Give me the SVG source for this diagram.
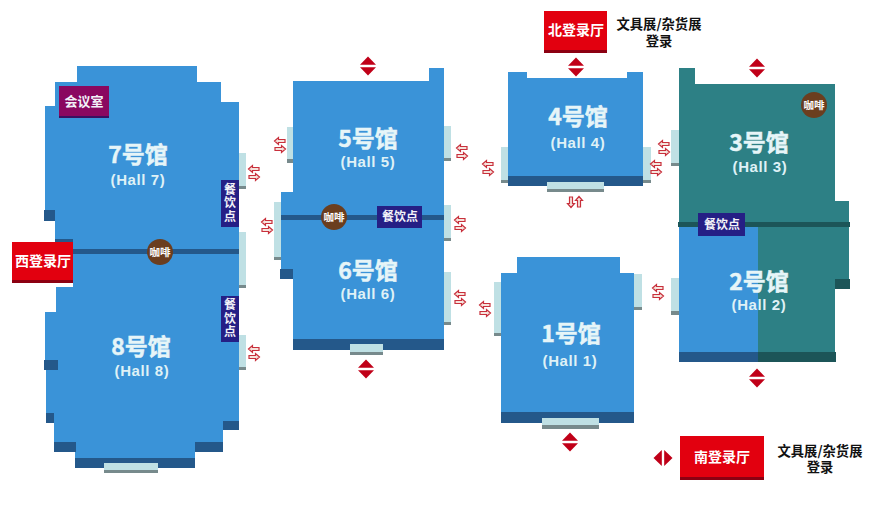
<svg xmlns="http://www.w3.org/2000/svg" width="880" height="505" viewBox="0 0 880 505">
<style>
.blue{fill:#3a93d8}.teal{fill:#2d8085}.dk{fill:#24588a}.dt{fill:#1c5558}.st{fill:#bfe0e4}.gr{fill:#778a8c}
.red{fill:#e2000f}.dr{fill:#8c0012}.food{fill:#251f85}.cof{fill:#6b3e1f}
text{font-family:"Noto Sans CJK SC","Noto Sans",sans-serif;font-weight:700;text-anchor:middle}
.t{font-size:23px;fill:#e6f5f8;stroke:#e6f5f8;stroke-width:.5px}
.h{font-family:"Liberation Sans",Arial,sans-serif;font-size:15px;fill:#dff1f6;letter-spacing:.6px}
.s{font-size:12px;fill:#f2f2f8}
.v{font-size:12px;fill:#f2f2f8;writing-mode:vertical-rl;letter-spacing:1.5px}
.l{font-size:14px;fill:#fff}
.k{font-size:13.300px;fill:#111}
.c{font-size:10.500px;fill:#fff}
.ar{fill:#f6e3dc;stroke:#c8303c;stroke-width:1.200}
.dm{fill:#c00018}
</style>
<defs>
<g id="lr"><path class="ar" d="M-5.500-4-1.500-7.500V-5.500H5V-2.500H-1.500V-.5Z"/><path class="ar" d="M5.500 4 1.500 .5V2.500H-5V5.500H1.500V7.500Z"/></g>
<g id="ud"><path class="ar" d="M-4 5.500-7.500 1.500H-5.500V-5H-2.500V1.500H-.5Z"/><path class="ar" d="M4-5.500 7.500-1.500H5.500V5H2.500V-1.500H.5Z"/></g>
<g id="dmv"><path class="dm" d="M-8-1.200 0-9.500 8-1.200Z"/><path class="dm" d="M-8 1.200 0 9.500 8 1.200Z"/></g>
<g id="dmh"><path class="dm" d="M-1.200-8-9.500 0-1.200 8Z"/><path class="dm" d="M1.200-8 9.500 0 1.200 8Z"/></g>
</defs>

<g id="hall-7-8">
<rect class="st" x="239" y="153" width="7" height="33"/><rect class="gr" x="239" y="186" width="7" height="3"/>
<rect class="st" x="239" y="232" width="7" height="53"/><rect class="gr" x="239" y="285" width="7" height="3"/>
<rect class="st" x="239" y="335" width="7" height="32"/><rect class="gr" x="239" y="367" width="7" height="3"/>
<path class="blue" d="M77 66H197V82H221V102H239V430H223V452H195V458H75V452H54V423H46V370H45V312H56V287H73V240H55V221H45V106H55V82H77Z"/>
<rect class="dk" x="44" y="210" width="11" height="11"/>
<rect class="dk" x="44" y="360" width="14" height="10"/>
<rect class="dk" x="46" y="413" width="8" height="10"/>
<rect class="dk" x="54" y="442" width="22" height="10"/>
<rect class="dk" x="195" y="442" width="28" height="10"/>
<rect class="dk" x="223" y="421" width="16" height="9"/>
<rect class="dk" x="75" y="458" width="120" height="10"/>
<rect class="st" x="104" y="463" width="54" height="7"/><rect class="gr" x="104" y="470" width="54" height="3"/>
<rect class="dk" x="55" y="239" width="18" height="5"/>
<rect class="dk" x="55" y="249" width="184" height="5"/>
<text class="t" x="138" y="163">7号馆</text>
<text class="h" x="138" y="185">(Hall 7)</text>
<text class="t" x="141" y="355">8号馆</text>
<text class="h" x="142" y="376">(Hall 8)</text>
</g>
<g id="meeting-room"><rect fill="#8a0860" x="59" y="86" width="50" height="30"/><rect fill="#3a1060" x="59" y="116" width="50" height="2"/><text class="s" x="84" y="106" style="font-size:13px">会议室</text></g>
<g id="food-7"><rect class="food" x="221" y="180" width="18" height="47"/><text class="v" x="230" y="203.500">餐饮点</text></g>
<g id="food-8"><rect class="food" x="221" y="296" width="18" height="46"/><text class="v" x="230" y="319">餐饮点</text></g>
<g id="coffee-7"><circle class="cof" cx="160" cy="252" r="13"/><text class="c" x="160" y="256">咖啡</text></g>
<g id="lobby-west"><rect class="red" x="12" y="242" width="61" height="38"/><rect class="dr" x="12" y="280" width="61" height="3"/><text class="l" x="43" y="266">西登录厅</text></g>

<g id="hall-5-6">
<rect class="st" x="287" y="127" width="6" height="32"/><rect class="gr" x="287" y="159" width="6" height="4"/>
<rect class="st" x="274" y="202" width="7" height="55"/><rect class="gr" x="274" y="257" width="7" height="3"/>
<rect class="st" x="444" y="126" width="7" height="32"/><rect class="gr" x="444" y="158" width="7" height="3"/>
<rect class="st" x="444" y="205" width="7" height="33"/><rect class="gr" x="444" y="238" width="7" height="3"/>
<rect class="st" x="444" y="272" width="7" height="50"/><rect class="gr" x="444" y="322" width="7" height="3"/>
<path class="blue" d="M293 81H429V68H444V339H293V279H281V192H293Z"/>
<rect class="dk" x="280" y="269" width="13" height="10"/>
<rect class="dk" x="293" y="339" width="151" height="11"/>
<rect class="st" x="350" y="344" width="33" height="8"/><rect class="gr" x="350" y="352" width="33" height="3"/>
<rect class="dk" x="281" y="215" width="163" height="5"/>
<text class="t" x="368" y="147">5号馆</text>
<text class="h" x="368" y="167">(Hall 5)</text>
<text class="t" x="368" y="279">6号馆</text>
<text class="h" x="368" y="299">(Hall 6)</text>
</g>
<g id="coffee-5"><circle class="cof" cx="334" cy="217" r="13"/><text class="c" x="334" y="221">咖啡</text></g>
<g id="food-5"><rect class="food" x="377" y="206" width="45" height="22"/><text class="s" x="400" y="221">餐饮点</text></g>

<g id="hall-4">
<rect class="st" x="501" y="147" width="7" height="33"/><rect class="gr" x="501" y="180" width="7" height="3"/>
<rect class="st" x="643" y="147" width="8" height="33"/><rect class="gr" x="643" y="180" width="8" height="3"/>
<path class="blue" d="M508 72H527V78H627V72H643V176H508Z"/>
<rect class="dk" x="508" y="176" width="135" height="10"/>
<rect class="st" x="547" y="182" width="57" height="7"/><rect class="gr" x="547" y="189" width="57" height="3"/>
<text class="t" x="578" y="125">4号馆</text>
<text class="h" x="578" y="148">(Hall 4)</text>
</g>
<g id="lobby-north"><rect class="red" x="544" y="11" width="63" height="39"/><rect class="dr" x="544" y="50" width="63" height="3"/><text class="l" x="576" y="35">北登录厅</text></g>
<g id="note-north"><text class="k" x="659" y="29">文具展/杂货展<tspan x="659" dy="17">登录</tspan></text></g>

<g id="hall-1">
<rect class="st" x="494" y="282" width="7" height="51"/><rect class="gr" x="494" y="333" width="7" height="3"/>
<rect class="st" x="634" y="274" width="8" height="33"/><rect class="gr" x="634" y="307" width="8" height="3"/>
<path class="blue" d="M517 257H620V273H634V412H501V273H517Z"/>
<rect class="dk" x="501" y="412" width="133" height="11"/>
<rect class="st" x="542" y="418" width="57" height="7"/><rect class="gr" x="542" y="425" width="57" height="4"/>
<text class="t" x="571" y="342">1号馆</text>
<text class="h" x="570" y="366">(Hall 1)</text>
</g>

<g id="hall-3-2">
<rect class="st" x="671" y="130" width="8" height="33"/><rect class="gr" x="671" y="163" width="8" height="3"/>
<rect class="st" x="671" y="278" width="8" height="33"/><rect class="gr" x="671" y="311" width="8" height="4"/>
<path class="teal" d="M679 68H695V84H835V201H849V279H835V352H679Z"/>
<rect class="blue" x="679" y="227" width="79" height="125"/>
<rect class="dt" x="835" y="279" width="15" height="10"/>
<rect class="dk" x="679" y="352" width="79" height="10"/>
<rect class="dt" x="758" y="352" width="78" height="10"/>
<rect class="dt" x="678" y="222" width="172" height="5"/>
<text class="t" x="759" y="151">3号馆</text>
<text class="h" x="760" y="172">(Hall 3)</text>
<text class="t" x="759" y="290">2号馆</text>
<text class="h" x="759" y="310">(Hall 2)</text>
</g>
<g id="coffee-3"><circle class="cof" cx="814" cy="105" r="13"/><text class="c" x="814" y="109">咖啡</text></g>
<g id="food-3"><rect class="food" x="698" y="213" width="47" height="23"/><text class="s" x="722" y="229">餐饮点</text></g>
<g id="lobby-south"><rect class="red" x="680" y="436" width="84" height="41"/><rect class="dr" x="680" y="477" width="84" height="3"/><text class="l" x="722" y="462">南登录厅</text></g>
<g id="note-south"><text class="k" x="820" y="456">文具展/杂货展<tspan x="820" dy="16">登录</tspan></text></g>

<g id="connectors">
<use href="#lr" x="254" y="173"/><use href="#lr" x="280" y="145"/><use href="#lr" x="267" y="226"/><use href="#lr" x="254" y="353"/>
<use href="#lr" x="462" y="152"/><use href="#lr" x="488" y="168"/><use href="#lr" x="460" y="224"/><use href="#lr" x="460" y="298"/><use href="#lr" x="485" y="309"/>
<use href="#lr" x="656" y="168"/><use href="#lr" x="664" y="148"/><use href="#lr" x="658" y="292"/>
<use href="#ud" x="575" y="202"/>
<use href="#dmv" x="368" y="66"/><use href="#dmv" x="366" y="369"/><use href="#dmv" x="576" y="67"/><use href="#dmv" x="570" y="442"/><use href="#dmv" x="757" y="68"/><use href="#dmv" x="757" y="378"/>
<use href="#dmh" x="663" y="458"/>
</g>
</svg>
